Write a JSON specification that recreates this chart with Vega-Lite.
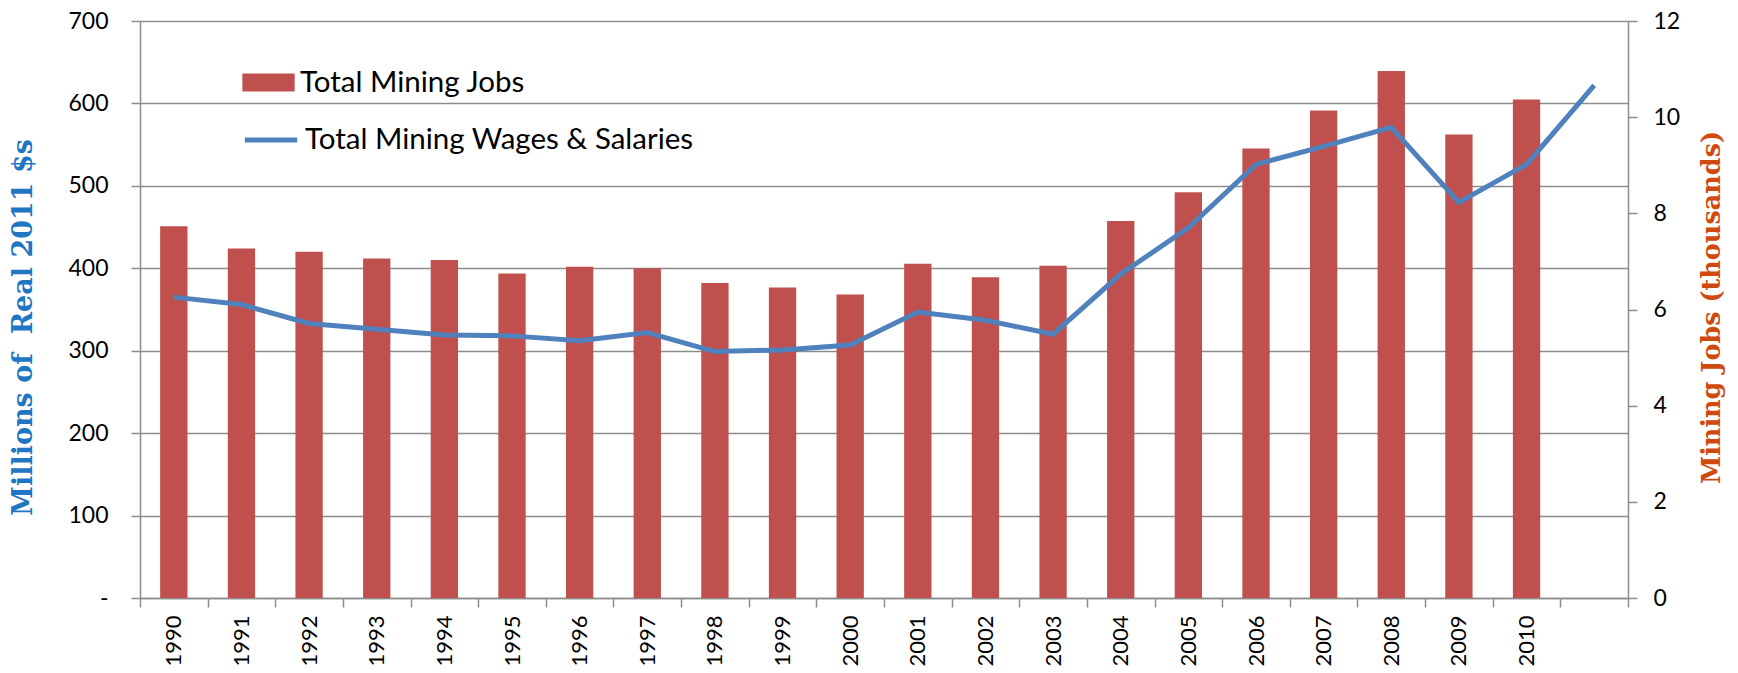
{
  "$schema": "https://vega.github.io/schema/vega-lite/v6.json",
  "width": 1488,
  "height": 577,
  "autosize": {"type": "none"},
  "padding": {"left": 140, "top": 21, "right": 110, "bottom": 75},
  "background": "white",
  "config": {
    "font": "Lato",
    "view": {"stroke": null},
    "axis": {
      "labelFont": "Lato",
      "labelFontSize": 23,
      "labelColor": "black",
      "domainColor": "#8c8c8c",
      "domainWidth": 1.5,
      "tickColor": "#8c8c8c",
      "tickWidth": 1.5,
      "tickSize": 9,
      "gridColor": "#8c8c8c",
      "gridWidth": 1.3
    }
  },
  "data": {
    "values": [
      {"year": "1990", "jobs": 7.73, "wages": 365},
      {"year": "1991", "jobs": 7.27, "wages": 356},
      {"year": "1992", "jobs": 7.20, "wages": 333},
      {"year": "1993", "jobs": 7.06, "wages": 326},
      {"year": "1994", "jobs": 7.03, "wages": 319},
      {"year": "1995", "jobs": 6.75, "wages": 318},
      {"year": "1996", "jobs": 6.89, "wages": 312},
      {"year": "1997", "jobs": 6.86, "wages": 322},
      {"year": "1998", "jobs": 6.55, "wages": 299},
      {"year": "1999", "jobs": 6.46, "wages": 301},
      {"year": "2000", "jobs": 6.31, "wages": 307},
      {"year": "2001", "jobs": 6.95, "wages": 347},
      {"year": "2002", "jobs": 6.67, "wages": 337},
      {"year": "2003", "jobs": 6.91, "wages": 320},
      {"year": "2004", "jobs": 7.84, "wages": 393},
      {"year": "2005", "jobs": 8.44, "wages": 449},
      {"year": "2006", "jobs": 9.35, "wages": 526},
      {"year": "2007", "jobs": 10.14, "wages": 548},
      {"year": "2008", "jobs": 10.96, "wages": 571},
      {"year": "2009", "jobs": 9.64, "wages": 480},
      {"year": "2010", "jobs": 10.37, "wages": 526},
      {"year": "2011", "jobs": null, "wages": 622}
    ]
  },
  "encoding": {
    "x": {
      "field": "year",
      "type": "ordinal",
      "scale": {"paddingInner": 0, "paddingOuter": 0},
      "axis": {
        "title": null,
        "labelAngle": -90,
        "tickBand": "extent",
        "labelPadding": 8,
        "labelFontSize": 22,
        "labelExpr": "datum.value == '2011' ? '' : datum.label"
      }
    }
  },
  "layer": [
    {
      "mark": {"type": "bar", "width": {"band": 0.404}},
      "encoding": {
        "y": {
          "field": "jobs",
          "type": "quantitative",
          "scale": {"domain": [0, 12]},
          "axis": {
            "orient": "right",
            "values": [0, 2, 4, 6, 8, 10, 12],
            "grid": false,
            "labelPadding": 16,
            "title": "Mining Jobs (thousands)",
            "titleFont": "DejaVu Serif",
            "titleFontWeight": "bold",
            "titleFontSize": 25.5,
            "titleColor": "#CF4A0E",
            "titleAngle": -90,
            "titleAlign": "center",
            "titleBaseline": "middle",
            "titleX": 83,
            "titleY": 286
          }
        },
        "fill": {
          "datum": "Total Mining Jobs",
          "type": "nominal",
          "scale": {"range": ["#C0504D"]},
          "legend": {
            "orient": "none",
            "legendX": 102,
            "legendY": 35,
            "title": null,
            "padding": 0,
            "symbolType": "M-1,-0.344H1V0.344H-1Z",
            "symbolSize": 2735,
            "symbolStrokeWidth": 0,
            "symbolOpacity": 1,
            "labelFont": "Lato",
            "labelFontSize": 29.5,
            "labelColor": "black",
            "labelLimit": 0,
            "labelOffset": 5
          }
        }
      }
    },
    {
      "mark": {"type": "line", "strokeWidth": 5},
      "encoding": {
        "y": {
          "field": "wages",
          "type": "quantitative",
          "scale": {"domain": [0, 700]},
          "axis": {
            "orient": "left",
            "values": [0, 100, 200, 300, 400, 500, 600, 700],
            "grid": true,
            "labelPadding": 23,
            "labelExpr": "datum.value == 0 ? '-\u00a0\u00a0\u00a0' : datum.label",
            "title": "Millions of\u00a0 Real 2011 $s",
            "titleFont": "DejaVu Serif",
            "titleFontWeight": "bold",
            "titleFontSize": 27,
            "titleColor": "#1F77C4",
            "titleAngle": -90,
            "titleAlign": "center",
            "titleBaseline": "middle",
            "titleX": -117,
            "titleY": 306
          }
        },
        "stroke": {
          "datum": "Total Mining Wages & Salaries",
          "type": "nominal",
          "scale": {"range": ["#4F81BD"]},
          "legend": {
            "orient": "none",
            "legendX": 102,
            "legendY": 90,
            "title": null,
            "padding": 0,
            "symbolType": "stroke",
            "symbolSize": 2735,
            "symbolStrokeWidth": 5,
            "labelFont": "Lato",
            "labelFontSize": 29.5,
            "labelColor": "black",
            "labelLimit": 0,
            "labelOffset": 5
          }
        }
      }
    }
  ],
  "resolve": {"scale": {"y": "independent", "fill": "independent", "stroke": "independent"}}
}
